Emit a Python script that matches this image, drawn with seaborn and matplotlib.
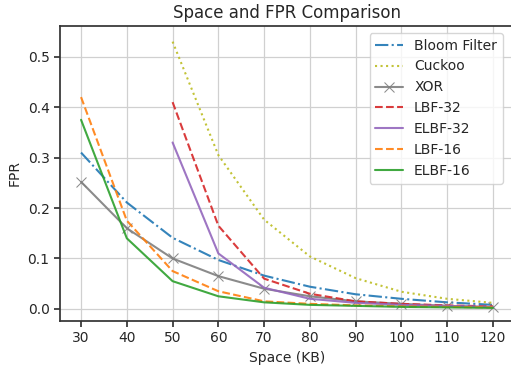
import numpy as np
import pandas as pd
import matplotlib; matplotlib.use("Agg")
import matplotlib.pyplot as plt
import seaborn as sns

sns.set_theme(style="ticks", rc={"axes.grid": True, "grid.color": "#d0d0d0",
                                 "grid.linewidth": 0.9})
plt.rcParams["font.family"] = ["DejaVu Sans"]

space = [30, 40, 50, 60, 70, 80, 90, 100, 110, 120]
space_lbf32 = [50, 60, 70, 80, 90, 100, 110, 120]

bloom = [0.31, 0.211, 0.141, 0.097, 0.066, 0.044, 0.029, 0.020, 0.013, 0.008]
cuckoo = [0.53, 0.305, 0.177, 0.104, 0.061, 0.034, 0.020, 0.012]
xor = [0.252, 0.160, 0.100, 0.065, 0.040, 0.025, 0.015, 0.010, 0.006, 0.003]
lbf32 = [0.41, 0.165, 0.060, 0.030, 0.015, 0.010, 0.007, 0.005]
elbf32 = [0.33, 0.110, 0.042, 0.020, 0.012, 0.008, 0.006, 0.004]
lbf16 = [0.42, 0.175, 0.075, 0.035, 0.015, 0.010, 0.007, 0.005, 0.004, 0.003]
elbf16 = [0.375, 0.140, 0.055, 0.025, 0.013, 0.008, 0.006, 0.004, 0.003, 0.002]

series = [
    ("Bloom Filter", space, bloom, "tab:blue", "-.", None),
    ("Cuckoo", space_lbf32, cuckoo, "tab:olive", ":", None),
    ("XOR", space, xor, "tab:gray", "-", "x"),
    ("LBF-32", space_lbf32, lbf32, "tab:red", "--", None),
    ("ELBF-32", space_lbf32, elbf32, "tab:purple", "-", None),
    ("LBF-16", space, lbf16, "tab:orange", "--", None),
    ("ELBF-16", space, elbf16, "tab:green", "-", None),
]

fig = plt.figure(figsize=(5.11, 3.66), dpi=100)
ax = fig.add_axes([60 / 511, 45 / 366, 454 / 511, 295 / 366])

for name, xs, ys, color, ls, marker in series:
    df = pd.DataFrame({"space": xs, "fpr": ys})
    sns.lineplot(data=df, x="space", y="fpr", color=color, linestyle=ls,
                 marker=marker, markersize=7, markeredgecolor=color,
                 linewidth=1.5, alpha=0.9, label=name, ax=ax)

ax.set_xticks(space)
ax.set_xlim(25.4, 124.6)
ax.set_ylim(-0.024, 0.561)
ax.set_yticks([0.0, 0.1, 0.2, 0.3, 0.4, 0.5])
ax.tick_params(labelsize=10, length=4, color="#333333")
for s in ax.spines.values():
    s.set_color("#333333")
ax.set_xlabel("Space (KB)", fontsize=10)
ax.set_ylabel("FPR", fontsize=10)
ax.set_title("Space and FPR Comparison", fontsize=12)
ax.legend(loc="upper right", fontsize=10, bbox_to_anchor=(0.99, 1.0),
          handlelength=2.0, framealpha=0.8)

fig.savefig("out.png", dpi=100)
